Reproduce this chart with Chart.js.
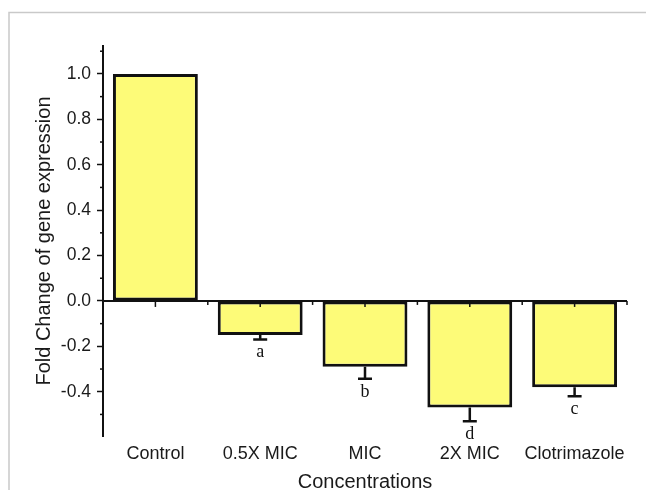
<!DOCTYPE html>
<html lang="en">
<head>
    <meta charset="utf-8" />
    <title>Fold change of gene expression</title>
    <script src="https://cdn.jsdelivr.net/npm/chart.js"></script>
    <style>
        body { margin: 0; background: #fff; }
        #wrap { width: 646px; height: 490px; position: relative; }
    </style>
</head>
<body>
    <div id="wrap"><canvas id="foldChart"></canvas></div>

<script>
    // data
    var categories = ['Control', '0.5X MIC', 'MIC', '2X MIC', 'Clotrimazole'];
    var foldChange = [1.0, -0.15, -0.29, -0.47, -0.38];
    var errorDown = [0, 0.02, 0.053, 0.06, 0.04];
    var groupLetters = ['', 'a', 'b', 'd', 'c'];
    var yMajorTicks = [-0.4, -0.2, 0.0, 0.2, 0.4, 0.6, 0.8, 1.0];
    var yMinorTicks = [-0.5, -0.3, -0.1, 0.1, 0.3, 0.5, 0.7, 0.9, 1.1];

    var sans = "'Liberation Sans', Arial, sans-serif";

    // grey frame round the figure
    var framePlugin = {
        id: 'frame',
        beforeDraw: function (chart) {
            var ctx = chart.ctx;
            ctx.save();
            ctx.strokeStyle = '#c9c9c9';
            ctx.lineWidth = 1.5;
            ctx.beginPath();
            ctx.moveTo(9, 490);
            ctx.lineTo(9, 12.5);
            ctx.lineTo(646, 12.5);
            ctx.stroke();
            ctx.restore();
        }
    };

    // zero line, its ticks, y minor ticks, error bars and letters
    var extrasPlugin = {
        id: 'extras',
        afterDatasetsDraw: function (chart) {
            var ctx = chart.ctx;
            var x = chart.scales.x, y = chart.scales.y;
            var area = chart.chartArea;
            var meta = chart.getDatasetMeta(0);
            var y0 = y.getPixelForValue(0);
            ctx.save();
            ctx.strokeStyle = '#111';
            ctx.fillStyle = '#111';

            // y minor ticks
            ctx.lineWidth = 1.5;
            yMinorTicks.forEach(function (v) {
                var py = y.getPixelForValue(v);
                ctx.beginPath();
                ctx.moveTo(area.left - 3, py);
                ctx.lineTo(area.left, py);
                ctx.stroke();
            });

            // x axis through zero
            ctx.lineWidth = 2;
            ctx.beginPath();
            ctx.moveTo(area.left, y0);
            ctx.lineTo(area.right, y0);
            ctx.stroke();

            ctx.lineWidth = 1.5;
            for (var i = 0; i < categories.length; i++) {
                var cx = x.getPixelForValue(i);
                ctx.beginPath();
                ctx.moveTo(cx, y0);
                ctx.lineTo(cx, y0 + 6);
                ctx.stroke();
                var bx = x.getPixelForValue(i + 0.5);
                ctx.beginPath();
                ctx.moveTo(bx, y0);
                ctx.lineTo(bx, y0 + 4);
                ctx.stroke();
            }

            // error bars (downward only)
            ctx.lineWidth = 2.5;
            ctx.font = "18px 'Liberation Serif', 'Times New Roman', serif";
            ctx.textAlign = 'center';
            ctx.textBaseline = 'middle';
            for (var j = 0; j < foldChange.length; j++) {
                if (!errorDown[j]) continue;
                var px = meta.data[j].x;
                var top = y.getPixelForValue(foldChange[j]);
                var cap = y.getPixelForValue(foldChange[j] - errorDown[j]);
                ctx.beginPath();
                ctx.moveTo(px, top);
                ctx.lineTo(px, cap);
                ctx.moveTo(px - 7, cap);
                ctx.lineTo(px + 7, cap);
                ctx.stroke();
                ctx.fillText(groupLetters[j], px, cap + 13);
            }
            ctx.restore();
        }
    };

    var ctx = document.getElementById('foldChart').getContext('2d');

    var foldChart = new Chart(ctx, {
        type: 'bar',
        data: {
            labels: categories,
            datasets: [{
                data: foldChange,
                backgroundColor: '#fdfb78',
                borderColor: '#111',
                borderWidth: 3,
                borderSkipped: false,
                barPercentage: 0.81,
                categoryPercentage: 1.0
            }]
        },
        options: {
            responsive: true,
            maintainAspectRatio: false,
            animation: false,
            layout: { padding: { top: 46, right: 19, bottom: 0, left: 0 } },
            plugins: {
                legend: { display: false },
                tooltip: { enabled: false }
            },
            scales: {
                x: {
                    grid: { display: false, drawTicks: false },
                    border: { display: false },
                    ticks: {
                        color: '#1a1a1a',
                        padding: 7,
                        maxRotation: 0,
                        font: { family: sans, size: 18 }
                    },
                    title: {
                        display: true,
                        text: 'Concentrations',
                        color: '#1a1a1a',
                        font: { family: sans, size: 20, lineHeight: 1 },
                        padding: { top: 0, bottom: -2 }
                    },
                    afterFit: function (scale) { scale.height = 54; }
                },
                y: {
                    min: -0.595,
                    max: 1.123,
                    afterBuildTicks: function (scale) {
                        scale.ticks = yMajorTicks.map(function (v) { return { value: v }; });
                    },
                    grid: {
                        drawOnChartArea: false,
                        drawTicks: true,
                        tickLength: 6,
                        tickWidth: 1.5,
                        tickColor: '#111'
                    },
                    border: { display: true, color: '#111', width: 2 },
                    ticks: {
                        color: '#1a1a1a',
                        padding: 6,
                        font: { family: sans, size: 17.5 },
                        callback: function (v) { return Number(v).toFixed(1); }
                    },
                    title: {
                        display: true,
                        text: 'Fold Change of gene expression',
                        color: '#1a1a1a',
                        font: { family: sans, size: 20, lineHeight: 1.2 },
                        padding: { top: 32, bottom: 0 }
                    },
                    afterFit: function (scale) { scale.width = 103; }
                }
            }
        },
        plugins: [framePlugin, extrasPlugin]
    });
</script>
</body>
</html>
